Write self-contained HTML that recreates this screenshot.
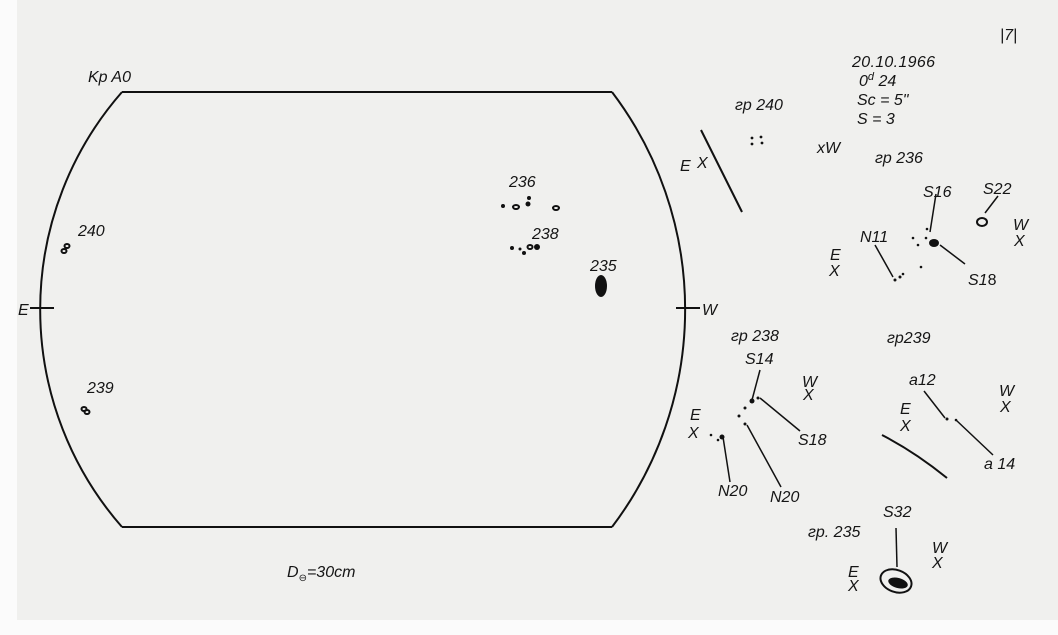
<!DOCTYPE html>
<html><head><meta charset="utf-8"><style>
html,body{margin:0;padding:0;background:#fff;}
svg{display:block;}
text{font-family:"Liberation Sans","DejaVu Sans",sans-serif;font-style:italic;fill:#151515;font-size:16px;}
</style></head><body>
<svg width="1058" height="635" viewBox="0 0 1058 635" xmlns="http://www.w3.org/2000/svg">
<rect x="0" y="0" width="1058" height="635" fill="#fbfbfb"/>
<rect x="17" y="0" width="1041" height="620" fill="#f0f0ee"/>
<g stroke="#111" stroke-width="2" fill="none">
<line x1="122" y1="92" x2="612" y2="92"/>
<line x1="122" y1="527" x2="612" y2="527"/>
<path d="M122 92 A330 330 0 0 0 122 527"/>
<path d="M612 92 A360 360 0 0 1 612 527"/>
<line x1="30" y1="308" x2="54" y2="308"/>
<line x1="676" y1="308" x2="700" y2="308"/>
<line x1="701" y1="130" x2="742" y2="212"/>
<path d="M882 435 Q915 452 947 478"/>
<line x1="930" y1="232" x2="936" y2="194" stroke-width="1.5"/>
<line x1="940" y1="245" x2="965" y2="264" stroke-width="1.5"/>
<line x1="875" y1="245" x2="893" y2="277" stroke-width="1.5"/>
<line x1="985" y1="213" x2="998" y2="196" stroke-width="1.5"/>
<line x1="752" y1="400" x2="760" y2="370" stroke-width="1.5"/>
<line x1="760" y1="398" x2="800" y2="431" stroke-width="1.5"/>
<line x1="747" y1="425" x2="781" y2="487" stroke-width="1.5"/>
<line x1="723" y1="437" x2="730" y2="482" stroke-width="1.5"/>
<line x1="924" y1="391" x2="945" y2="418" stroke-width="1.5"/>
<line x1="956" y1="420" x2="993" y2="455" stroke-width="1.5"/>
<line x1="896" y1="528" x2="897" y2="567" stroke-width="1.5"/>
<ellipse cx="896" cy="581" rx="16" ry="11" transform="rotate(20 896 581)"/>
<ellipse cx="982" cy="222" rx="5" ry="4"/>
<ellipse cx="64" cy="251" rx="2.5" ry="2"/><ellipse cx="67" cy="246" rx="2.5" ry="2"/>
<ellipse cx="84" cy="409" rx="2.5" ry="2"/><ellipse cx="87" cy="412" rx="2.5" ry="2"/>
<ellipse cx="516" cy="207" rx="3" ry="2"/><ellipse cx="556" cy="208" rx="3" ry="2"/>
<ellipse cx="530" cy="247" rx="2.5" ry="2"/>
</g>
<g fill="#111">
<ellipse cx="601" cy="286" rx="6" ry="11"/>
<ellipse cx="898" cy="583" rx="10" ry="5" transform="rotate(15 898 583)"/>
<ellipse cx="934" cy="243" rx="5" ry="4"/>
<circle cx="503" cy="206" r="2"/><circle cx="528" cy="204" r="2.5"/><circle cx="529" cy="198" r="2"/>
<circle cx="512" cy="248" r="2"/><circle cx="520" cy="249" r="1.5"/><circle cx="524" cy="253" r="2"/><circle cx="537" cy="247" r="3"/>
<circle cx="752" cy="138" r="1.4"/><circle cx="752" cy="144" r="1.4"/><circle cx="761" cy="137" r="1.4"/><circle cx="762" cy="143" r="1.4"/>
<circle cx="927" cy="229" r="1.3"/><circle cx="913" cy="238" r="1.3"/><circle cx="918" cy="245" r="1.3"/><circle cx="921" cy="267" r="1.3"/><circle cx="895" cy="280" r="1.5"/><circle cx="900" cy="277" r="1.5"/><circle cx="903" cy="274" r="1.3"/><circle cx="926" cy="238" r="1.3"/>
<circle cx="752" cy="401" r="2.5"/><circle cx="758" cy="398" r="1.5"/><circle cx="745" cy="408" r="1.5"/><circle cx="739" cy="416" r="1.5"/><circle cx="745" cy="424" r="1.5"/>
<circle cx="722" cy="437" r="2.5"/><circle cx="711" cy="435" r="1.3"/><circle cx="718" cy="440" r="1.3"/>
<circle cx="947" cy="419" r="1.5"/><circle cx="956" cy="420" r="1.3"/>
</g>
<text x="88" y="82">Kp A0</text>
<text x="78" y="236">240</text>
<text x="87" y="393">239</text>
<text x="18" y="315">E</text>
<text x="702" y="315">W</text>
<text x="509" y="187">236</text>
<text x="532" y="239">238</text>
<text x="590" y="271">235</text>
<text x="287" y="577">D<tspan font-size="10" dy="4">⊖</tspan><tspan dy="-4">=30cm</tspan></text>
<text x="1000" y="40" font-size="20" font-style="normal">|7|</text>
<text x="852" y="67" textLength="83">20.10.1966</text>
<text x="859" y="86">0<tspan font-size="11" dy="-6">d</tspan><tspan dy="6">  24</tspan></text>
<text x="857" y="105">Sc = 5"</text>
<text x="857" y="124">S  =  3</text>
<text x="735" y="110">гр 240</text>
<text x="680" y="171">E</text><text x="697" y="168">X</text>
<text x="817" y="153">xW</text>
<text x="875" y="163">гр 236</text>
<text x="923" y="197">S16</text>
<text x="983" y="194">S22</text>
<text x="1013" y="230">W</text><text x="1014" y="246">X</text>
<text x="860" y="242">N11</text>
<text x="830" y="260">E</text><text x="829" y="276">X</text>
<text x="968" y="285">S1<tspan font-style="normal">8</tspan></text>
<text x="731" y="341">гр 238</text>
<text x="887" y="343">гр239</text>
<text x="745" y="364">S14</text>
<text x="802" y="387">W</text><text x="803" y="400">X</text>
<text x="909" y="385">a12</text>
<text x="999" y="396">W</text><text x="1000" y="412">X</text>
<text x="900" y="414">E</text><text x="900" y="431">X</text>
<text x="690" y="420">E</text><text x="688" y="438">X</text>
<text x="798" y="445">S18</text>
<text x="984" y="469">a 14</text>
<text x="718" y="496">N20</text>
<text x="770" y="502">N20</text>
<text x="883" y="517">S32</text>
<text x="808" y="537">гр. 235</text>
<text x="932" y="553">W</text><text x="932" y="568">X</text>
<text x="848" y="577">E</text><text x="848" y="591">X</text>
</svg>
</body></html>
